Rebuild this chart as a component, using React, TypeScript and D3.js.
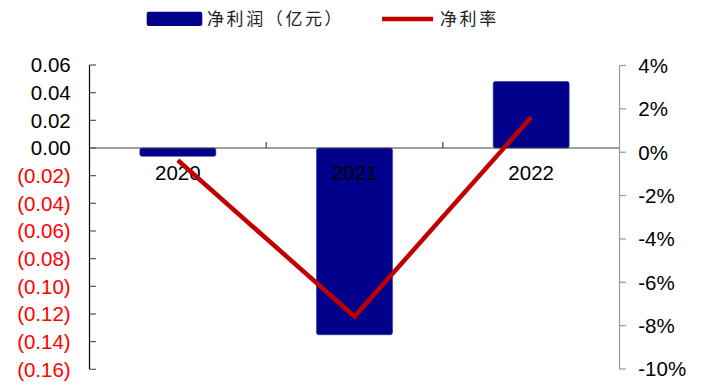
import React from "react";
import * as d3 from "d3";

const categories = ["2020", "2021", "2022"];
const netProfit = [-0.006, -0.135, 0.048];
const netMargin = [-0.0037, -0.0758, 0.0161];
const leftTicks = [0.06, 0.04, 0.02, 0, -0.02, -0.04, -0.06, -0.08, -0.1, -0.12, -0.14, -0.16];
const rightTicks = [0.04, 0.02, 0, -0.02, -0.04, -0.06, -0.08, -0.1];
const legendBar = "净利润（亿元）";
const legendLine = "净利率";

const W = 701;
const H = 385;
const X0 = 89.5;
const X1 = 619.5;

export default function App() {
  const x = d3.scaleBand<string>().domain(categories).range([X0, X1]).paddingInner(0).paddingOuter(0);
  const yL = d3.scaleLinear().domain([-0.16, 0.06]).range([369.3, 65]);
  const yR = d3.scaleLinear().domain([-0.1, 0.04]).range([369, 65.5]);
  const bw = x.bandwidth() * 0.43;
  const cx = (c: string) => (x(c) as number) + x.bandwidth() / 2;
  const line = d3
    .line<number>()
    .x((_, i) => cx(categories[i]))
    .y((d) => yR(d));
  const fmtL = (v: number) => (v < 0 ? `(${Math.abs(v).toFixed(2)})` : v.toFixed(2));
  const fmtR = (v: number) => `${Math.round(v * 100)}%`;
  const font = "Liberation Sans, Arial, sans-serif";
  const cjk = "Noto Sans CJK SC, sans-serif";
  const boundaries = [X0 + x.bandwidth(), X0 + 2 * x.bandwidth()];
  return (
    <svg width={W} height={H} style={{ position: "absolute", left: 0, top: 0, background: "#fff" }}>
      {/* legend */}
      <rect x={146.7} y={11.7} width={55.6} height={14.3} rx={2} fill="#00008B" />
      <text x={207} y={25} fontFamily={cjk} fontSize={17} letterSpacing={2.6} fill="#222">
        {legendBar}
      </text>
      <line x1={382} x2={433} y1={19} y2={19} stroke="#C00000" strokeWidth={4.5} />
      <text x={440} y={25} fontFamily={cjk} fontSize={17} letterSpacing={2.6} fill="#222">
        {legendLine}
      </text>

      {/* bars */}
      {categories.map((c, i) => {
        const v = netProfit[i];
        const y0 = yL(0);
        const yv = yL(v);
        return (
          <rect
            key={c}
            x={cx(c) - bw / 2}
            y={Math.min(y0, yv)}
            width={bw}
            height={Math.abs(yv - y0)}
            rx={2}
            fill="#00008B"
            stroke="#2a2a9a"
            strokeWidth={0.6}
          />
        );
      })}

      {/* x axis */}
      <line x1={X0} x2={X1} y1={yL(0)} y2={yL(0)} stroke="#404040" strokeWidth={1.2} />
      {boundaries.map((b, i) => (
        <line key={i} x1={b} x2={b} y1={yL(0) - 6} y2={yL(0)} stroke="#404040" strokeWidth={1.2} />
      ))}

      {/* category labels */}
      {categories.map((c) => (
        <text key={c} x={cx(c)} y={180} textAnchor="middle" fontFamily={font} fontSize={20.5} fill="#000">
          {c}
        </text>
      ))}

      {/* left axis */}
      <line x1={X0} x2={X0} y1={yL(0.06)} y2={yL(-0.16)} stroke="#000" strokeWidth={1.2} />
      {leftTicks.map((t) => (
        <g key={t}>
          <line x1={X0} x2={X0 + 6.5} y1={yL(t)} y2={yL(t)} stroke="#555" strokeWidth={1.2} />
          <text
            x={70.7}
            y={yL(t)}
            dy="0.36em"
            textAnchor="end"
            fontFamily={font}
            fontSize={20.5}
            fill={t < 0 ? "#FF0000" : "#000"}
          >
            {fmtL(t)}
          </text>
        </g>
      ))}

      {/* right axis */}
      <line x1={X1} x2={X1} y1={yR(0.04)} y2={yR(-0.1)} stroke="#999" strokeWidth={1.2} />
      {rightTicks.map((t) => (
        <g key={t}>
          <line x1={X1} x2={X1 + 6.5} y1={yR(t)} y2={yR(t)} stroke="#999" strokeWidth={1.2} />
          <text x={638.3} y={yR(t)} dy="0.36em" textAnchor="start" fontFamily={font} fontSize={20.5} fill="#000">
            {fmtR(t)}
          </text>
        </g>
      ))}

      {/* line */}
      <path d={line(netMargin) || ""} fill="none" stroke="#C00000" strokeWidth={4.5} strokeLinejoin="miter" />
    </svg>
  );
}
